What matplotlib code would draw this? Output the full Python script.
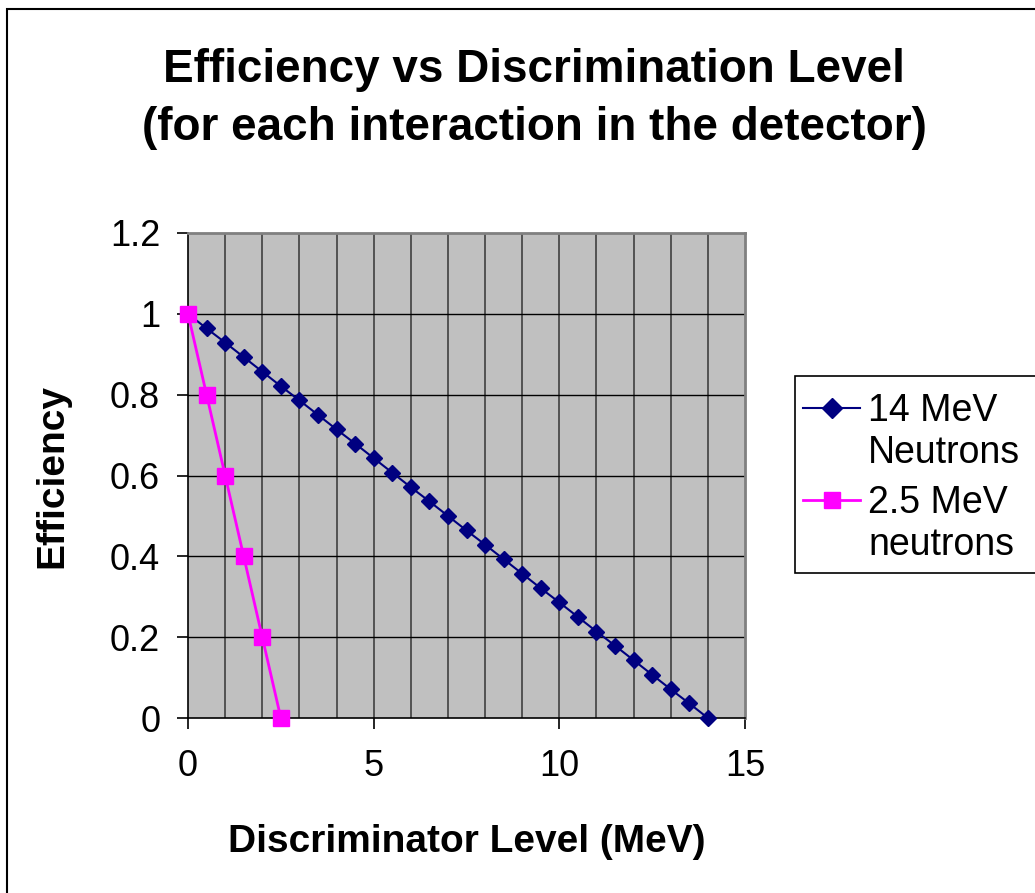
from matplotlib import pyplot as plt
from matplotlib.patches import Rectangle
from matplotlib.lines import Line2D

plt.rcParams['font.family'] = ['Liberation Sans', 'DejaVu Sans']

# 14 MeV neutrons
level_14 = [0, 0.5, 1, 1.5, 2, 2.5, 3, 3.5, 4, 4.5, 5, 5.5, 6, 6.5, 7,
            7.5, 8, 8.5, 9, 9.5, 10, 10.5, 11, 11.5, 12, 12.5, 13, 13.5, 14]
eff_14 = [1.0, 0.964, 0.929, 0.893, 0.857, 0.821, 0.786, 0.75, 0.714, 0.679,
          0.643, 0.607, 0.571, 0.536, 0.5, 0.464, 0.429, 0.393, 0.357, 0.321,
          0.286, 0.25, 0.214, 0.179, 0.143, 0.107, 0.071, 0.036, 0.0]

# 2.5 MeV neutrons
level_25 = [0, 0.5, 1, 1.5, 2, 2.5]
eff_25 = [1.0, 0.8, 0.6, 0.4, 0.2, 0.0]

x_ticks = [0, 5, 10, 15]
y_ticks = [0, 0.2, 0.4, 0.6, 0.8, 1, 1.2]
y_tick_labels = ['0', '0.2', '0.4', '0.6', '0.8', '1', '1.2']

W, H = 1035, 893
fig = plt.figure(figsize=(W / 100, H / 100), dpi=100)
ax = fig.add_axes([188 / W, 1 - 718 / H, 557 / W, 485 / H])
ax.set_facecolor('#C0C0C0')

# outer chart border (runs off the right and bottom edges)
fig.patches.append(Rectangle((7 / W, -0.05), 1.1, 1 - 9 / H + 0.05,
                             transform=fig.transFigure, fill=False,
                             edgecolor='black', linewidth=1.5))

# vertical gridlines every 1 MeV, horizontal at each tick
for gx in range(1, 15):
    ax.axvline(gx, color='#404040', linewidth=1.2, zorder=1)
for gy in y_ticks[1:-1]:
    ax.axhline(gy, color='black', linewidth=1.0, zorder=1)

c14 = '#000080'
c25 = '#FF00FF'
ax.plot(level_14, eff_14, color=c14, marker='D', markersize=8.5,
        linewidth=1.5, zorder=3, clip_on=False)
ax.plot(level_25, eff_25, color=c25, marker='s', markersize=11,
        linewidth=2, zorder=4, clip_on=False)

ax.set_xlim(0, 15)
ax.set_ylim(0, 1.2)
ax.set_xticks(x_ticks)
ax.set_yticks(y_ticks)
ax.set_yticklabels(y_tick_labels)
ax.tick_params(axis='both', labelsize=26, direction='out', length=8, width=1.2)
ax.tick_params(axis='x', pad=14)
ax.tick_params(axis='y', pad=12)

for side in ['top', 'right']:
    ax.spines[side].set_color('#808080')
    ax.spines[side].set_linewidth(2)
for side in ['left', 'bottom']:
    ax.spines[side].set_color('black')
    ax.spines[side].set_linewidth(1.2)

ax.set_xlabel('Discriminator Level (MeV)', fontsize=28, fontweight='bold', va='center')
ax.xaxis.set_label_coords(0.5, -0.256)
ax.set_ylabel('Efficiency', fontsize=28, fontweight='bold', va='center')
ax.yaxis.set_label_coords(-0.244, 0.5)

fig.text(534 / W, 1 - 99 / H, 'Efficiency vs Discrimination Level\n(for each interaction in the detector)',
         ha='center', va='center', fontsize=33, fontweight='bold', linespacing=1.42)

# legend drawn by hand so the marker sits on the first line of each label
fig.patches.append(Rectangle((795 / W, 1 - 573 / H), 0.5, 197 / H,
                             transform=fig.transFigure, facecolor='white',
                             edgecolor='black', linewidth=1.2))
entries = [(c14, 'D', 10, 1.5, 408, ['14 MeV', 'Neutrons']),
           (c25, 's', 11, 2, 500, ['2.5 MeV', 'neutrons'])]
for color, mk, ms, lw, ypix, lines in entries:
    fig.lines.append(Line2D([803 / W, 860 / W], [1 - ypix / H] * 2,
                            transform=fig.transFigure, color=color, linewidth=lw))
    fig.lines.append(Line2D([832 / W], [1 - ypix / H], transform=fig.transFigure,
                            color=color, marker=mk, markersize=ms, linestyle='none'))
    for k, txt in enumerate(lines):
        fig.text(868 / W, 1 - (ypix + 3 + 42 * k) / H, txt, fontsize=27,
                 ha='left', va='center')

fig.savefig('out.png', dpi=100)
